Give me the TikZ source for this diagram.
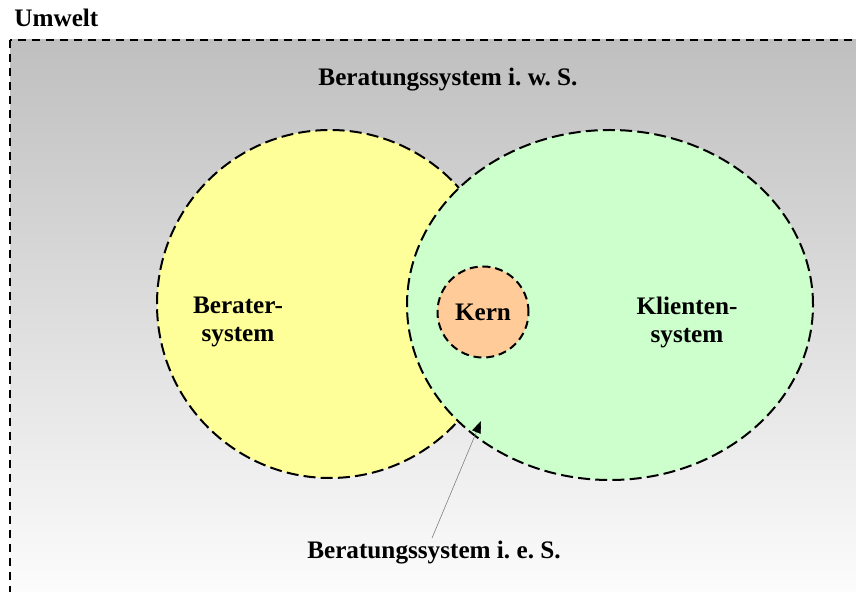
\documentclass[tikz,border=0pt]{standalone}
\usepackage{fontspec}
\setmainfont{Liberation Serif}
\usepackage{xcolor}
\definecolor{beraterfill}{HTML}{FFFF99}
\definecolor{klientfill}{HTML}{CCFFCC}
\definecolor{kernfill}{HTML}{FFCC99}
\usetikzlibrary{shapes.geometric,arrows.meta,positioning}
\tikzset{
	beschrift/.style={
		font=\fontsize{12.6}{14}\selectfont\bfseries,
		text=black, align=center, inner sep=1pt
	},
	system/.style={
		draw, ellipse, dashed, line width=1pt,
		dash pattern=on 6pt off 2.6pt, inner sep=0pt
	},
	umweltbox/.style={
		draw, dashed, line width=1.1pt,
		dash pattern=on 4pt off 3pt,
		top color=black!25, bottom color=white
	},
	pointer/.style={-{Triangle[length=6pt,width=4.5pt,color=black]}, gray, line width=0.3pt}
}

\begin{document}
\begin{tikzpicture}[x=0.5pt,y=-0.5pt]
				\useasboundingbox (0,0) rectangle (856,592);
				\clip (0,0) rectangle (856,592);
				\draw[umweltbox] (10,40) rectangle (880,620);
				\node[beschrift, anchor=west] (umwelt) at (12,18) {Umwelt};
				\node[beschrift] (weit) at (448,80) {Beratungssystem i.\ w.\ S.};
				\node[system, fill=beraterfill, minimum width=173pt, minimum height=174pt] (berater) at (330,304) {};
				\node[system, fill=klientfill, minimum width=203pt, minimum height=175pt] (klient) at (610,305) {};
				\node[system, fill=kernfill, circle, minimum size=45.5pt, dash pattern=on 4pt off 2.4pt] (kern) at (483,312) {};
				\node[beschrift] at (kern) {Kern};
				\node[beschrift] (beratertext) at (238,322) {Berater-\\system};
				\node[beschrift] (klienttext) at (687,322) {Klienten-\\system};
				\node[beschrift] (eng) at (434,553) {Beratungssystem i.\ e.\ S.};
				\coordinate (schnitt) at (481,421);
				\draw[pointer] (eng.north) ++(-2,-1) -- (schnitt);
			\end{tikzpicture}
\end{document}
